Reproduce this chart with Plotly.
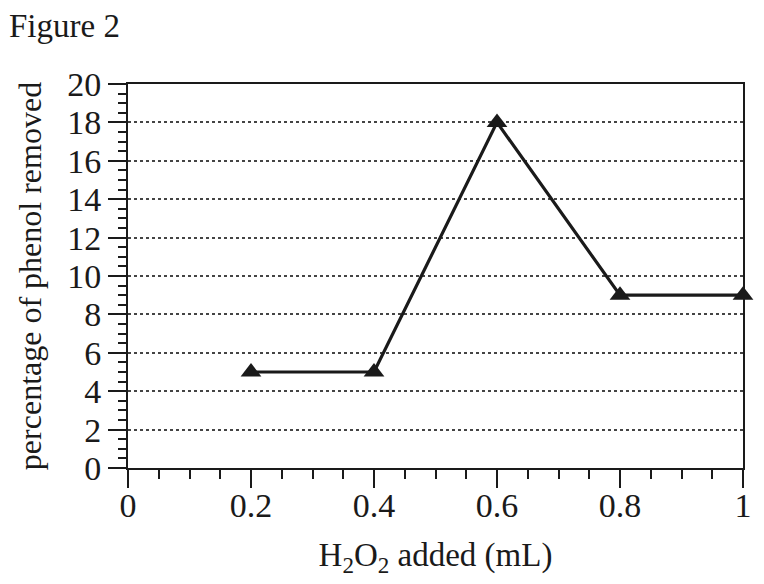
import plotly.graph_objects as go

# data
h2o2_ml = [0.2, 0.4, 0.6, 0.8, 1.0]
phenol_removed = [5, 5, 18, 9, 9]

x_ticks = [0, 0.2, 0.4, 0.6, 0.8, 1]
x_ticklabels = ["0", "0.2", "0.4", "0.6", "0.8", "1"]
y_ticks = list(range(0, 21, 2))

serif = "Liberation Serif, Times New Roman, serif"
ink = "#1a1a1a"

fig = go.Figure()
fig.add_trace(go.Scatter(
    x=h2o2_ml,
    y=phenol_removed,
    mode="lines+markers",
    line=dict(color=ink, width=3.2),
    marker=dict(symbol="triangle-up", size=18, color=ink),
    showlegend=False,
    cliponaxis=False
))

fig.update_xaxes(
    range=[0, 1],
    tickvals=x_ticks,
    ticktext=x_ticklabels,
    ticks="outside", ticklen=18, tickwidth=2, tickcolor=ink,
    ticklabelstandoff=-12,
    minor=dict(dtick=0.05, ticks="outside", ticklen=9, tickwidth=2, tickcolor=ink),
    showline=True, linecolor=ink, linewidth=2, mirror=True,
    showgrid=False, zeroline=False,
    tickfont=dict(family=serif, size=34, color=ink),
    title=dict(text="H<sub>2</sub>O<sub>2</sub> added (mL)",
               font=dict(family=serif, size=33, color=ink), standoff=20)
)
fig.update_yaxes(
    range=[0, 20],
    tickvals=y_ticks,
    ticks="outside", ticklen=18, tickwidth=2, tickcolor=ink,
    minor=dict(dtick=0.5, ticks="outside", ticklen=8, tickwidth=2, tickcolor=ink,
               showgrid=False),
    showline=True, linecolor=ink, linewidth=2, mirror=True,
    showgrid=True, gridcolor="#444444", gridwidth=1.6, griddash="dot",
    zeroline=False,
    tickfont=dict(family=serif, size=34, color=ink),
    title=dict(text="percentage of phenol removed",
               font=dict(family=serif, size=32, color=ink), standoff=16)
)

# figure label in the top-left corner
fig.add_annotation(
    text="Figure 2", xref="paper", yref="paper",
    x=-120 / 615, y=1.2, xanchor="left", yanchor="top", borderpad=0,
    showarrow=False, font=dict(family=serif, size=33, color=ink)
)

# page renders with an 8px body offset, so shrink the figure to match
fig.update_layout(
    width=756, height=576,
    margin=dict(l=120, r=21, t=76, b=116),
    paper_bgcolor="white", plot_bgcolor="white"
)

fig.write_html("out.html")
